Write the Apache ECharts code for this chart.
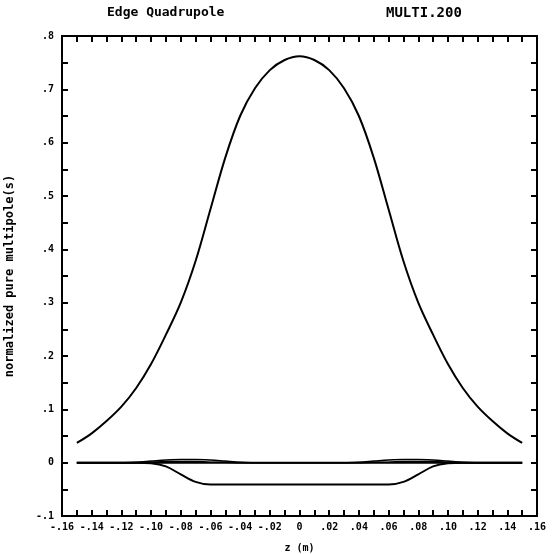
<!DOCTYPE html>
<html>
<head>
<meta charset="utf-8">
<script src="https://cdn.jsdelivr.net/npm/echarts@6/dist/echarts.min.js"></script>
<style>
  html, body { margin: 0; padding: 0; background: #fff; }
  #chart { width: 552px; height: 554px; }
</style>
</head>
<body>
<div id="chart"></div>
<script>
// Longitudinal position along the magnet, metres
const zPositions = [-0.15, -0.14, -0.13, -0.12, -0.11, -0.10, -0.09, -0.08, -0.07, -0.06,
  -0.05, -0.04, -0.03, -0.02, -0.01, 0, 0.01, 0.02, 0.03, 0.04, 0.05, 0.06, 0.07, 0.08,
  0.09, 0.10, 0.11, 0.12, 0.13, 0.14, 0.15];

// Main quadrupole component
const quadrupole = [0.037, 0.055, 0.078, 0.105, 0.140, 0.185, 0.240, 0.300, 0.378, 0.475,
  0.572, 0.650, 0.702, 0.736, 0.755, 0.762, 0.755, 0.736, 0.702, 0.650, 0.572, 0.475,
  0.378, 0.300, 0.240, 0.185, 0.140, 0.105, 0.078, 0.055, 0.037];

// Negative edge component
const edgeNegative = [0, 0, 0, 0, 0, -0.001, -0.007, -0.022, -0.036, -0.041,
  -0.041, -0.041, -0.041, -0.041, -0.041, -0.041, -0.041, -0.041, -0.041, -0.041, -0.041, -0.041,
  -0.036, -0.022, -0.007, -0.001, 0, 0, 0, 0, 0];

// Small positive edge components
const edgeSmallA = [0, 0, 0, 0, 0.001, 0.003, 0.005, 0.006, 0.006, 0.005,
  0.003, 0.001, 0, 0, 0, 0, 0, 0, 0, 0.001, 0.003, 0.005, 0.006, 0.006,
  0.005, 0.003, 0.001, 0, 0, 0, 0];
const edgeSmallB = [0, 0, 0, 0, 0, 0.001, 0.002, 0.002, 0.002, 0.001,
  0.001, 0, 0, 0, 0, 0, 0, 0, 0, 0, 0.001, 0.001, 0.002, 0.002,
  0.002, 0.001, 0, 0, 0, 0, 0];

// Baseline component
const baseline = [0, 0, 0, 0, 0, 0, 0, 0, 0, 0, 0, 0, 0, 0, 0, 0, 0, 0, 0, 0, 0, 0, 0, 0, 0, 0, 0, 0, 0, 0, 0];

// Axis ranges and labels
const xRange = [-0.16, 0.16];
const xStep = 0.02;
const yRange = [-0.1, 0.8];
const yStep = 0.1;
const titleLeft = 'Edge Quadrupole';
const titleRight = 'MULTI.200';
const xName = 'z (m)';
const yName = 'normalized pure multipole(s)';

const FONT = '"DejaVu Sans Mono", monospace';
const INK = '#000';

function trimZero(v, digits) {
  if (Math.abs(v) < 1e-9) return '0';
  return v.toFixed(digits).replace('0.', '.');
}

function pairs(values) {
  return zPositions.map((z, i) => [z, values[i]]);
}

function lineSeries(name, values, width) {
  return {
    name: name,
    type: 'line',
    data: pairs(values),
    smooth: 0.35,
    showSymbol: false,
    symbol: 'none',
    lineStyle: { color: INK, width: width },
    xAxisIndex: 0,
    yAxisIndex: 0,
    animation: false
  };
}

const tickInside = { show: true, inside: true, length: 6, lineStyle: { color: INK, width: 2 } };
const minorInside = { show: true, splitNumber: 2, length: 6, lineStyle: { color: INK, width: 2 } };

const chart = echarts.init(document.getElementById('chart'));
chart.setOption({
  backgroundColor: '#fff',
  animation: false,
  graphic: [
    { type: 'text', left: 107, top: 6, style: { text: titleLeft, font: 'bold 13px ' + FONT, fill: INK } },
    { type: 'text', left: 386, top: 6, style: { text: titleRight, font: 'bold 14px ' + FONT, fill: INK } }
  ],
  grid: { left: 62, right: 15, top: 36, bottom: 38, show: true, borderColor: INK, borderWidth: 2,
    outerBoundsMode: 'none', containLabel: false },
  xAxis: [
    {
      type: 'value', min: xRange[0], max: xRange[1], interval: xStep,
      name: xName, nameLocation: 'middle', nameGap: 27,
      nameTextStyle: { fontFamily: FONT, fontWeight: 'bold', fontSize: 10, color: INK },
      axisLine: { show: true, onZero: false, lineStyle: { color: INK, width: 2 } },
      axisTick: tickInside, minorTick: minorInside,
      splitLine: { show: false },
      axisLabel: { margin: 6, fontFamily: FONT, fontWeight: 'bold', fontSize: 10, color: INK,
        formatter: v => trimZero(v, 2) }
    },
    {
      type: 'value', position: 'top', min: xRange[0], max: xRange[1], interval: xStep,
      axisLine: { show: true, onZero: false, lineStyle: { color: INK, width: 2 } },
      axisTick: tickInside, minorTick: minorInside,
      splitLine: { show: false }, axisLabel: { show: false }
    }
  ],
  yAxis: [
    {
      type: 'value', min: yRange[0], max: yRange[1], interval: yStep,
      name: yName, nameLocation: 'middle', nameGap: 46, nameRotate: 90,
      nameTextStyle: { fontFamily: FONT, fontWeight: 'bold', fontSize: 12, color: INK },
      axisLine: { show: true, onZero: false, lineStyle: { color: INK, width: 2 } },
      axisTick: tickInside, minorTick: minorInside,
      splitLine: { show: false },
      axisLabel: { margin: 8, fontFamily: FONT, fontWeight: 'bold', fontSize: 10, color: INK,
        formatter: v => trimZero(v, 1) }
    },
    {
      type: 'value', position: 'right', min: yRange[0], max: yRange[1], interval: yStep,
      axisLine: { show: true, onZero: false, lineStyle: { color: INK, width: 2 } },
      axisTick: tickInside, minorTick: minorInside,
      splitLine: { show: false }, axisLabel: { show: false }
    }
  ],
  series: [
    lineSeries('quadrupole', quadrupole, 2),
    lineSeries('baseline', baseline, 2),
    lineSeries('edge-a', edgeSmallA, 1.5),
    lineSeries('edge-b', edgeSmallB, 1.5),
    lineSeries('edge-negative', edgeNegative, 2)
  ]
});
</script>
</body>
</html>
